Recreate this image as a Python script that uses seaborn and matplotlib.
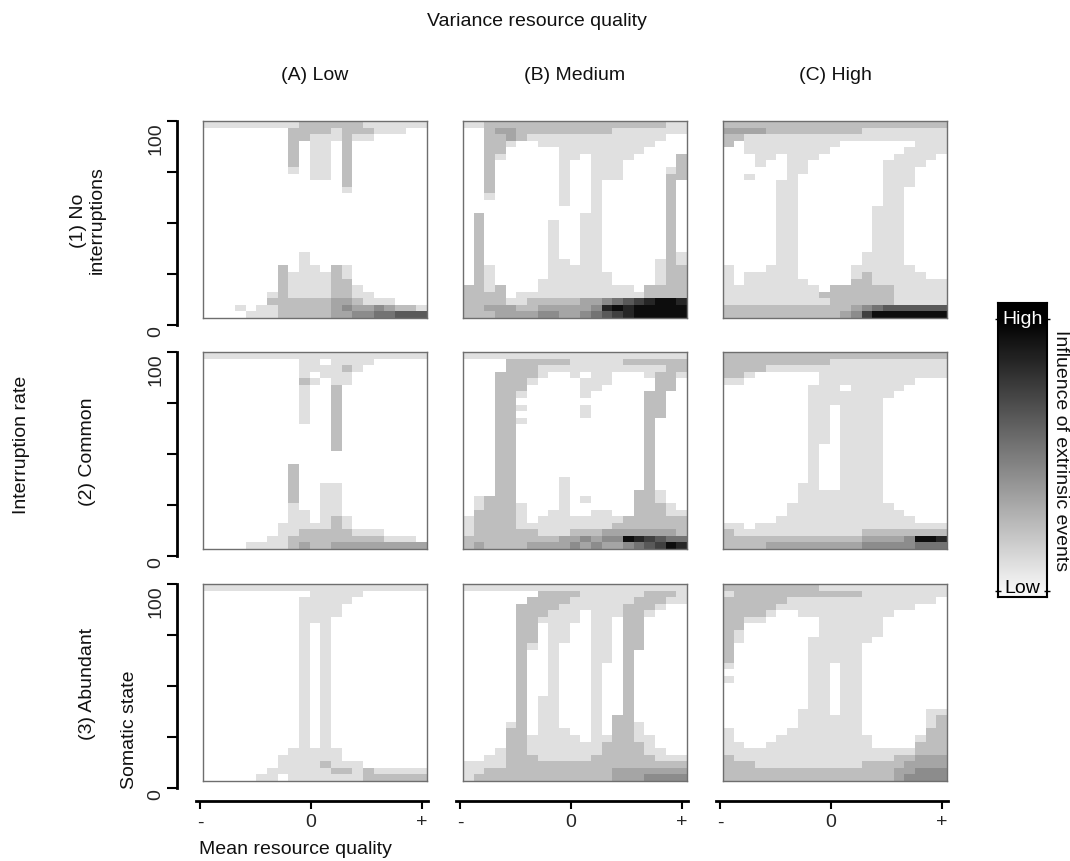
import numpy as np
import matplotlib
matplotlib.use("Agg")
import matplotlib.pyplot as plt
from matplotlib.colors import ListedColormap, LinearSegmentedColormap
import seaborn as sns

col_titles = ["(A) Low", "(B) Medium", "(C) High"]
row_titles = ["(1) No\ninterruptions", "(2) Common", "(3) Abundant"]
x_tick_labels = ["-", "0", "+"]
y_tick_labels = ["0", "100"]
cbar_labels = ["Low", "High"]

# influence of extrinsic events per cell: 0 = none ... 9 = highest
# 21 columns of mean resource quality (- to +), 30 rows of somatic state (100 at top)
panel_a1 = [
    "111111111222222111111",
    "000000002222122211100",
    "000000002211121100000",
    "000000002011020000000",
    "000000002011020000000",
    "000000002011020000000",
    "000000002011020000000",
    "000000001011020000000",
    "000000000011020000000",
    "000000000000020000000",
    "000000000000010000000",
    "000000000000000000000",
    "000000000000000000000",
    "000000000000000000000",
    "000000000000000000000",
    "000000000000000000000",
    "000000000000000000000",
    "000000000000000000000",
    "000000000000000000000",
    "000000000000000000000",
    "000000000100000000000",
    "000000000100000000000",
    "000000020110210000000",
    "000000021111210000000",
    "000000021111220000000",
    "000000021111221000000",
    "000000121111221100000",
    "000000222222332111000",
    "000101122222343343221",
    "000011122222334455666",
]
panel_b1 = [
    "112222222222222222211",
    "002332222222221111111",
    "002232111111111111100",
    "002210011111111111000",
    "002200000111111110000",
    "002100000110111100002",
    "002000000100111000002",
    "002000000100111000012",
    "002000000100111000022",
    "002000000100100000020",
    "002000000100100000020",
    "001000000100100000020",
    "000000000100100000020",
    "000000000000100000020",
    "020000000001100000020",
    "020000001001100000020",
    "020000001001100000020",
    "020000001001100000020",
    "020000001001100000020",
    "020000001001100000020",
    "020000001001100000021",
    "020000001101100000121",
    "021000001111100000122",
    "021000001111110000122",
    "021000011111110000122",
    "221200011111111102222",
    "222201111111111112222",
    "222211222223345678998",
    "223332233333489899999",
    "222333344334567899999",
]
panel_c1 = [
    "222222222222222222222",
    "333322222222211111111",
    "221111111111111111111",
    "201111111110000000111",
    "001111111100000001111",
    "000110111000000011110",
    "000100110000000111100",
    "000000110000000111000",
    "001000100000000111000",
    "000001100000000111000",
    "000001100000000110000",
    "000001100000000110000",
    "000001100000000110000",
    "000001100000001110000",
    "000001100000001110000",
    "000001100000001110000",
    "000001100000001110000",
    "000001100000001110000",
    "000001100000001110000",
    "000001100000001110000",
    "000001100000011110000",
    "000001100000011110000",
    "100011100000111111000",
    "101111100000121111100",
    "101111110000221111111",
    "111111111022222211111",
    "111111111222222211111",
    "111111111122222211111",
    "222222222222345666666",
    "222222222223479999999",
]
panel_a2 = [
    "111111111111111111111",
    "000000000110111100000",
    "000000000111121000000",
    "000000000101110000000",
    "000000000210110000000",
    "000000000100200000000",
    "000000000100200000000",
    "000000000100200000000",
    "000000000100200000000",
    "000000000100200000000",
    "000000000100200000000",
    "000000000000200000000",
    "000000000000200000000",
    "000000000000200000000",
    "000000000000200000000",
    "000000000000000000000",
    "000000000000000000000",
    "000000002000000000000",
    "000000002000000000000",
    "000000002000000000000",
    "000000002001100000000",
    "000000002001100000000",
    "000000002001100000000",
    "000000001001100000000",
    "000000001101100000000",
    "000000001101210000000",
    "000000011111210000000",
    "000000011222221110000",
    "000000112222222221110",
    "000011112322333333333",
]
panel_b2 = [
    "111111111111111111111",
    "000022222211111222222",
    "000022211111111111122",
    "000222210010110001221",
    "000222100001110000220",
    "000222000001100000220",
    "000221000001000002200",
    "000220000000000002200",
    "000221000001000002200",
    "000220000001000002200",
    "000221000000000002000",
    "000220000000000002000",
    "000220000000000002000",
    "000220000000000002000",
    "000220000000000002000",
    "000220000000000002000",
    "000220000000000002000",
    "000220000000000002000",
    "000220000000000002000",
    "000220000100000002000",
    "000220000100000002000",
    "000220000100000022100",
    "012220000101000022100",
    "012221000100000022210",
    "022221001100110022211",
    "122221011111111222222",
    "122221111111112222222",
    "122222211122233333332",
    "222222222334344987655",
    "232222333343433456798",
]
panel_c2 = [
    "222222222222222222222",
    "222222222211111111111",
    "222211111111111111111",
    "221000000111111111111",
    "110000000111111111000",
    "000000001110111110000",
    "000000001111111100000",
    "000000001111111000000",
    "000000001101111000000",
    "000000001101111000000",
    "000000001101111000000",
    "000000001101111000000",
    "000000001101111000000",
    "000000001101111000000",
    "000000001001111000000",
    "000000001001111000000",
    "000000001001111000000",
    "000000001001111000000",
    "000000001001111000000",
    "000000001001111000000",
    "000000011001111000000",
    "000000011111111000000",
    "000000011111111000000",
    "000000111111111100000",
    "000000111111111110000",
    "000001111111111111000",
    "110111111111111111111",
    "211111111111122222222",
    "222222222222233334998",
    "222233333333344444555",
]
panel_a3 = [
    "111111111111111111111",
    "000000000011111000000",
    "000000000111110000000",
    "000000000111100000000",
    "000000000111100000000",
    "000000000111000000000",
    "000000000101000000000",
    "000000000101000000000",
    "000000000101000000000",
    "000000000101000000000",
    "000000000101000000000",
    "000000000101000000000",
    "000000000101000000000",
    "000000000101000000000",
    "000000000101000000000",
    "000000000101000000000",
    "000000000101000000000",
    "000000000101000000000",
    "000000000101000000000",
    "000000000101000000000",
    "000000000101000000000",
    "000000000101000000000",
    "000000000101000000000",
    "000000000101000000000",
    "000000000101000000000",
    "000000001111100000000",
    "000000011111100000000",
    "000000011112111000000",
    "000000111111221211111",
    "000001101111111222222",
]
panel_b3 = [
    "111111111111111111111",
    "000000022221111112221",
    "000000222211111122211",
    "000002222111111222100",
    "000002221110111221000",
    "000002211110110220000",
    "000002201100110220000",
    "000002201100110220000",
    "000002201100110220000",
    "000002101000110220000",
    "000002001000110200000",
    "000002001000110200000",
    "000002001000100200000",
    "000002001000100200000",
    "000002001000100200000",
    "000002001000100200000",
    "000002001000100200000",
    "000002011000100200000",
    "000002011000100200000",
    "000002011000100200000",
    "000002011000102200000",
    "000012011000102210000",
    "000022011100102210000",
    "000022111110112211000",
    "000022111111122221000",
    "000122111111122221100",
    "001122211111222222111",
    "111122222222222222222",
    "112222222222223333333",
    "122222222222223334444",
]
panel_c3 = [
    "222222222111111111111",
    "122222222222211111111",
    "222222111111111111110",
    "222221111111111111000",
    "222210011111111100000",
    "221100000111111000000",
    "220000000111111000000",
    "210000000111111000000",
    "210000001111110000000",
    "200000001111100000000",
    "200000001111100000000",
    "200000001111100000000",
    "100000001101100000000",
    "000000001101100000000",
    "100000001101100000000",
    "000000001101100000000",
    "000000001101100000000",
    "000000001101100000000",
    "000000001101100000000",
    "000000011101100000011",
    "000000011111100000012",
    "000000011111100000012",
    "100000111111100000022",
    "100001111111110000122",
    "110011111111110000222",
    "111111111111111111222",
    "211111111111111122333",
    "222111111111122223333",
    "222222222222222233444",
    "222222222222222234444",
]

panels = [
    [panel_a1, panel_b1, panel_c1],
    [panel_a2, panel_b2, panel_c2],
    [panel_a3, panel_b3, panel_c3],
]

W, H = 1070, 862
box_left = [203, 463, 723]
box_top = [122, 353, 585]
box_w, box_h = 224, 197
axis_span = 204


def rect(x0, y0, w, h):
    return [x0 / W, 1 - (y0 + h) / H, w / W, h / H]


sns.set_theme(style="white")
plt.rcParams['font.family'] = ['Liberation Sans', 'DejaVu Sans']
plt.rcParams['text.color'] = '#111111'

grays = ['#ffffff', '#e0e0e0', '#bebebe', '#a5a5a5', '#8c8c8c',
         '#737373', '#595959', '#404040', '#262626', '#0d0d0d']
cell_cmap = ListedColormap(grays)

fig = plt.figure(figsize=(W / 100, H / 100), dpi=100)

for i in range(3):
    for j in range(3):
        grid = np.array([[int(ch) for ch in row] for row in panels[i][j]])
        ax = fig.add_axes(rect(box_left[j], box_top[i], box_w, box_h))
        sns.heatmap(grid, ax=ax, cmap=cell_cmap, vmin=-0.5, vmax=9.5,
                    cbar=False, xticklabels=False, yticklabels=False)
        for sp in ax.spines.values():
            sp.set_visible(True)
            sp.set_color('#6e6e6e')
            sp.set_linewidth(1)

# detached y axes (somatic state) on the left column
for i in range(3):
    yax = fig.add_axes(rect(177, box_top[i], 1, axis_span))
    yax.patch.set_visible(False)
    for side in ['top', 'right', 'bottom']:
        yax.spines[side].set_visible(False)
    yax.spines['left'].set_color('black')
    yax.spines['left'].set_linewidth(2)
    yax.set_ylim(0, 100)
    yax.set_xticks([])
    yax.set_yticks([0, 100], y_tick_labels, rotation=90, va='top')
    yax.set_yticks([25, 50, 75], minor=True)
    yax.tick_params(axis='y', which='both', direction='out', length=7, width=1.5,
                    color='black', labelsize=14, pad=2, left=True)

# detached x axes (mean resource quality) under the bottom row
for j in range(3):
    xax = fig.add_axes(rect(box_left[j] - 7, 801, 232, 1))
    xax.patch.set_visible(False)
    for side in ['top', 'right', 'left']:
        xax.spines[side].set_visible(False)
    xax.spines['bottom'].set_color('black')
    xax.spines['bottom'].set_linewidth(2)
    xax.set_xlim(-1.036, 1.054)
    xax.set_yticks([])
    xax.set_xticks([-1, 0, 1], x_tick_labels)
    xax.tick_params(axis='x', direction='out', length=6, width=1.5, color='black',
                    labelsize=14, pad=3, bottom=True)

# titles and labels
fig.text(537 / W, 1 - 22 / H, "Variance resource quality", ha='center', va='center', fontsize=14)
for j in range(3):
    fig.text((box_left[j] + box_w / 2) / W, 1 - 75 / H, col_titles[j],
             ha='center', va='center', fontsize=14)
for i in range(3):
    fig.text(88 / W, 1 - (box_top[i] + box_h / 2) / H, row_titles[i],
             ha='center', va='center', rotation=90, fontsize=14, linespacing=1.1)
fig.text(22 / W, 1 - 445 / H, "Interruption rate", ha='center', va='center',
         rotation=90, fontsize=14)
fig.text(130 / W, 1 - 730 / H, "Somatic state", ha='center', va='center',
         rotation=90, fontsize=14)
fig.text(295 / W, 1 - 850 / H, "Mean resource quality", ha='center', va='center', fontsize=14)

# colour key
cax = fig.add_axes(rect(998, 304, 49, 294))
grad_cmap = LinearSegmentedColormap.from_list("key", ['#f7f7f7', '#000000'])
low_pos, high_pos = 0.02, 0.946
ramp = np.clip((np.linspace(0, 1, 300) - low_pos) / (high_pos - low_pos), 0, 1)
cax.imshow(ramp[:, None], aspect='auto', cmap=grad_cmap, origin='lower',
           extent=[0, 1, 0, 1], vmin=0, vmax=1)
cax.set_xlim(0, 1)
cax.set_ylim(0, 1)
cax.set_xticks([])
cax.set_yticks([low_pos, high_pos], ['', ''])
cax.tick_params(axis='y', left=True, right=True, direction='inout', length=5,
                width=1, color='black')
for sp in cax.spines.values():
    sp.set_visible(True)
    sp.set_color('black')
    sp.set_linewidth(1.5)
cax.text(0.5, high_pos, cbar_labels[1], ha='center', va='center', color='white',
         fontsize=14, transform=cax.transAxes)
cax.text(0.5, 0.005, cbar_labels[0], ha='center', va='bottom', color='black',
         fontsize=14, transform=cax.transAxes)
fig.text(1061 / W, 1 - 451 / H, "Influence of extrinsic events", ha='center', va='center',
         rotation=-90, fontsize=14)

fig.savefig("out.png", dpi=100)
